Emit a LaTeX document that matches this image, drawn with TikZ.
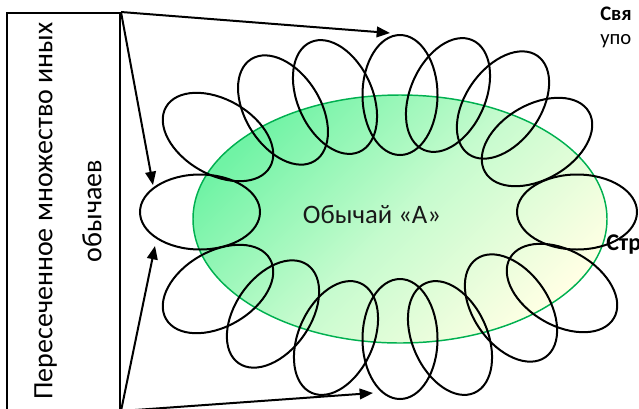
\documentclass[tikz,border=0pt]{standalone}
\usepackage{fontspec}
\setmainfont{Carlito}
\usetikzlibrary{shapes.geometric,arrows.meta}
\definecolor{rimgreen}{HTML}{00B050}
\definecolor{coretop}{RGB}{112,243,165}
\definecolor{coremid}{RGB}{198,251,206}
\definecolor{corebot}{RGB}{255,255,228}
\begin{document}
\begin{tikzpicture}[x=0.75pt,y=-0.75pt,
  loopst/.style={draw=black, line width=1.5pt, ellipse, minimum width=90pt, minimum height=56.25pt, inner sep=0pt},
  arr/.style={line width=1.5pt, -{Triangle[length=10pt,width=8pt]}},
  sidetxt/.style={anchor=base west, inner sep=0pt},
]
\useasboundingbox (0,0) rectangle (639,408);
\node[draw=rimgreen, line width=1.1pt, ellipse, minimum width=310.5pt, minimum height=186pt, inner sep=0pt,
  top color=coretop, bottom color=corebot, middle color=coremid, shading angle=45] (core) at (400,219) {};
\foreach \n/\px/\py/\r in {1/200/212/0, 2/218/137/-30, 3/283/110/-58, 4/335/97/-66,
  5/400/95/90, 6/448/95/66, 7/503/105/55, 8/537/142/30, 9/577/212/0,
  10/562/288/-30, 11/511/308/-55, 12/450/338/-66, 13/400/339/90,
  14/336/338/66, 15/273/314/55, 16/218/289/30}
  \node[loopst, rotate=\r] (l\n) at (\px,\py) {};
\node[font=\fontsize{20}{24}\selectfont, text=black!90] (ttl) at (372,215) {Обычай «А»};
\node[draw, line width=1.5pt, minimum width=84.75pt, minimum height=297.75pt, inner sep=0pt] (box) at (63.5,211.5) {};
\node[rotate=90, align=center, font=\fontsize{21}{36.75}\selectfont] (boxtxt) at (68,211) {Пересеченное множество иных\\обычаев};
\coordinate (t1) at (390,33);
\coordinate (t2) at (153,185);
\coordinate (t3) at (155,246);
\coordinate (t4) at (373,393);
\draw[arr] (box.north east) -- (t1);
\draw[arr] (box.north east) -- (t2);
\draw[arr] (box.south east) -- (t3);
\draw[arr] (box.south east) -- (t4);
\node[sidetxt, font=\fontsize{15.5}{18}\selectfont\bfseries] (r1) at (600,20) {Свя};
\node[sidetxt, font=\fontsize{15.5}{18}\selectfont] (r2) at (600,44) {упо};
\node[sidetxt, font=\fontsize{18}{20}\selectfont\bfseries] (r3) at (606,250) {Стр};
\end{tikzpicture}
\end{document}
